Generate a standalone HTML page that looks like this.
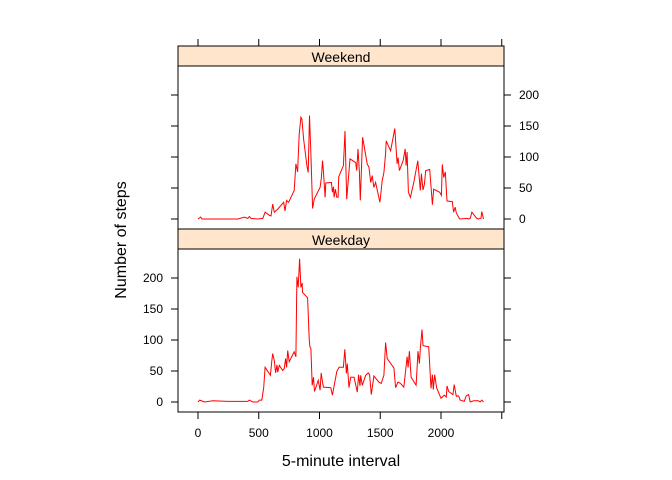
<!DOCTYPE html>
<html><head><meta charset="utf-8"><style>
body{margin:0;background:#fff;}
svg{display:block;font-family:"Liberation Sans",Arial,sans-serif;}
</style></head><body>
<svg id="chart" width="672" height="480">
<g id="g"></g>
</svg>
<script>
const xTicks=[0,500,1000,1500,2000];
const yTicks=[0,50,100,150,200];
const weekendX=[0,22,33,109,328,382,410,423,437,492,533,552,587,601,615,628,656,705,716,729,746,792,806,820,833,847,855,869,896,907,918,929,943,956,1005,1016,1025,1033,1046,1052,1098,1106,1115,1120,1131,1142,1153,1158,1197,1210,1224,1251,1298,1306,1317,1328,1336,1355,1393,1407,1421,1434,1448,1462,1497,1516,1530,1544,1549,1585,1620,1639,1647,1658,1688,1705,1713,1721,1732,1748,1776,1809,1830,1839,1852,1863,1874,1907,1929,1940,1989,2003,2011,2022,2035,2049,2093,2104,2117,2126,2153,2213,2227,2240,2254,2295,2309,2328,2336,2350];
const weekendY=[0,3,0,0,0,3,1,4,1,0,1,11,6,5,24,11,16,27,13,30,27,46,89,76,137,164,161,129,86,75,167,105,17,32,51,67,94,75,35,58,59,43,52,35,48,35,35,68,86,142,32,97,91,78,113,75,30,132,89,83,59,70,51,59,27,62,75,106,126,110,146,89,99,78,94,113,86,108,43,35,59,94,46,73,47,56,78,80,23,48,43,38,88,67,76,29,28,11,19,10,0,1,0,1,11,1,0,1,12,0];
const weekdayX=[0,14,55,123,246,410,423,451,492,505,525,541,552,596,607,615,628,639,650,656,669,697,710,721,729,738,751,792,806,814,825,836,847,858,860,902,915,921,929,940,951,959,989,1005,1014,1025,1033,1093,1106,1120,1142,1161,1197,1208,1221,1229,1243,1257,1284,1311,1322,1333,1339,1352,1380,1402,1412,1426,1448,1489,1508,1530,1544,1557,1612,1626,1645,1667,1694,1705,1721,1729,1740,1754,1795,1811,1822,1830,1844,1852,1899,1918,1929,1937,1948,1964,2000,2027,2044,2049,2063,2098,2109,2126,2145,2158,2191,2207,2227,2240,2268,2309,2322,2336,2350];
const weekdayY=[0,3,0,2,1,1,3,0,0,3,3,23,56,43,66,78,67,47,60,48,59,51,54,70,56,83,65,81,73,202,185,231,185,192,177,168,102,89,86,27,40,17,35,19,47,32,24,23,11,26,49,56,56,85,46,62,23,40,40,16,44,26,43,27,43,47,44,12,42,32,30,43,96,70,55,23,32,30,24,44,73,56,82,40,27,82,62,86,117,91,89,22,44,20,44,23,6,11,8,26,17,12,28,9,10,3,1,10,12,0,2,2,0,3,0];

const NS="http://www.w3.org/2000/svg";
const g=document.getElementById('g');
function mk(t,a,txt){const e=document.createElementNS(NS,t);for(const k in a)e.setAttribute(k,a[k]);if(txt!=null)e.textContent=txt;g.appendChild(e);return e;}
const L=178,R=504;
const xs=v=>198+v*0.1215;
const ysWE=v=>219-v*0.62;
const ysWD=v=>402-v*0.62;

let e;
e=mk('rect',{x:L,y:46,width:R-L,height:20,fill:'#ffe5cc',stroke:'#000','stroke-width':1});

e=mk('text',{x:(L+R)/2,y:62,'text-anchor':'middle','font-size':14},'Weekend');

e=mk('rect',{x:L,y:229,width:R-L,height:20,fill:'#ffe5cc',stroke:'#000','stroke-width':1});

e=mk('text',{x:(L+R)/2,y:245,'text-anchor':'middle','font-size':14},'Weekday');

e=mk('rect',{x:L,y:66,width:R-L,height:163,fill:'none',stroke:'#000'});

e=mk('rect',{x:L,y:249,width:R-L,height:163,fill:'none',stroke:'#000'});


xTicks.concat([2500]).forEach((v,i)=>{
  const x=xs(v);
  e=mk('line',{x1:x,x2:x,y1:39,y2:46,stroke:'#000'});
  
  e=mk('line',{x1:x,x2:x,y1:412,y2:419,stroke:'#000'});
  
  if(i<xTicks.length){
    e=mk('text',{x:x,y:437,'text-anchor':'middle','font-size':12},String(v));
    
  }
});
yTicks.forEach(v=>{
  let y=ysWE(v);
  e=mk('line',{x1:171,x2:178,y1:y,y2:y,stroke:'#000'});
  
  e=mk('line',{x1:504,x2:511,y1:y,y2:y,stroke:'#000'});
  
  e=mk('text',{x:519,y:y+4,'font-size':12},String(v));
  
  y=ysWD(v);
  e=mk('line',{x1:171,x2:178,y1:y,y2:y,stroke:'#000'});
  
  e=mk('line',{x1:504,x2:511,y1:y,y2:y,stroke:'#000'});
  
  e=mk('text',{x:163,y:y+4,'text-anchor':'end','font-size':12},String(v));
  
});
function line(X,Y,ys,name){
  const d=X.map((v,i)=>(i?'L':'M')+xs(v).toFixed(1)+','+ys(Y[i]).toFixed(1)).join('');
  const p=mk('path',{d:d,fill:'none',stroke:'#ff0000','stroke-width':1});
  
  
}
line(weekendX,weekendY,ysWE,'weekend-steps-line');
line(weekdayX,weekdayY,ysWD,'weekday-steps-line');
e=mk('text',{x:341,y:466,'text-anchor':'middle','font-size':16},'5-minute interval');

e=mk('text',{x:0,y:0,'text-anchor':'middle','font-size':16,transform:'translate(126,240) rotate(-90)'},'Number of steps');

</script>
</body></html>
